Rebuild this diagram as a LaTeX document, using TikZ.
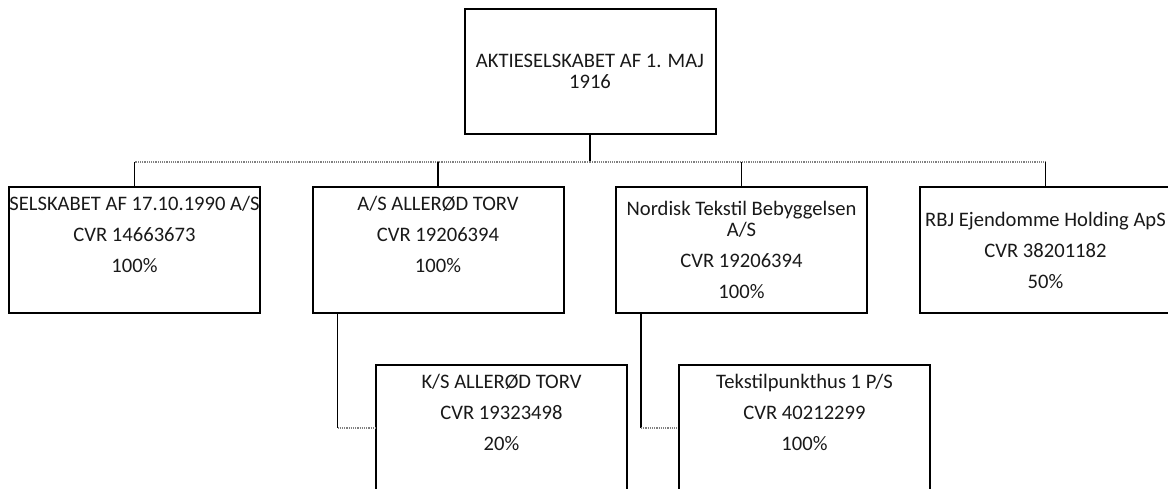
\documentclass[tikz,border=0pt]{standalone}
\usepackage{fontspec}
\setmainfont{Carlito}
\usetikzlibrary{positioning}
\newcommand{\orgfont}{\fontsize{20.6pt}{21.5pt}\selectfont}
\tikzset{
  unit/.style={draw=black, line width=2pt, minimum width=251pt, minimum height=126pt, inner sep=0pt, align=center, text=black!90},
  unittext/.style={inner sep=0pt, align=center, text=black!90},
  stem/.style={black, line width=1.6pt},
  rail/.style={gray, line width=1.2pt, densely dotted},
}
\begin{document}
\begin{tikzpicture}[x=1pt,y=-1pt,line join=miter]
  \orgfont
  \path[use as bounding box, clip] (0,0) rectangle (1168,488);

  \node[unit, minimum height=125pt] (top) at (590,71.5) {AKTIESELSKABET AF 1. MAJ\\1916};

  \node[unit] (sel) at (134.5,250) {};
  \node[unittext, below=10pt of sel.north] (sel-t) {SELSKABET AF 17.10.1990 A/S\\[9.5pt]CVR 14663673\\[9.5pt]100\%};
  \node[unit] (torv) at (438,250) {};
  \node[unittext, below=10pt of torv.north] (torv-t) {A/S ALLERØD TORV\\[9.5pt]CVR 19206394\\[9.5pt]100\%};
  \node[unit] (nordisk) at (741.5,250) {Nordisk Tekstil Bebyggelsen\\A/S\\[9.5pt]CVR 19206394\\[9.5pt]100\%};
  \node[unit] (rbj) at (1045.5,250) {RBJ Ejendomme Holding ApS\\[9.5pt]CVR 38201182\\[9.5pt]50\%};

  \node[unit] (kstorv) at (501.5,428) {};
  \node[unittext, below=10pt of kstorv.north] (kstorv-t) {K/S ALLERØD TORV\\[9.5pt]CVR 19323498\\[9.5pt]20\%};
  \node[unit] (tekstil) at (804.5,428) {};
  \node[unittext, below=10pt of tekstil.north] (tekstil-t) {Tekstilpunkthus 1 P/S\\[9.5pt]CVR 40212299\\[9.5pt]100\%};

  % top to the four companies
  \coordinate[below=27pt of top.south] (bus);
  \draw[stem] (top.south) -- (bus);
  \foreach \c in {sel,torv,nordisk,rbj} {
      \draw[rail] (bus) -- (bus -| \c.north);
      \draw[stem] (bus -| \c.north) -- (\c.north);
    }

  % owned below
  \foreach \p/\c in {torv/kstorv,nordisk/tekstil} {
      \coordinate[right=26pt of \p.south west] (\p-out);
      \draw[stem] (\p-out) -- (\p-out |- \c.west);
      \draw[rail] (\p-out |- \c.west) -- (\c.west);
    }
\end{tikzpicture}
\end{document}
